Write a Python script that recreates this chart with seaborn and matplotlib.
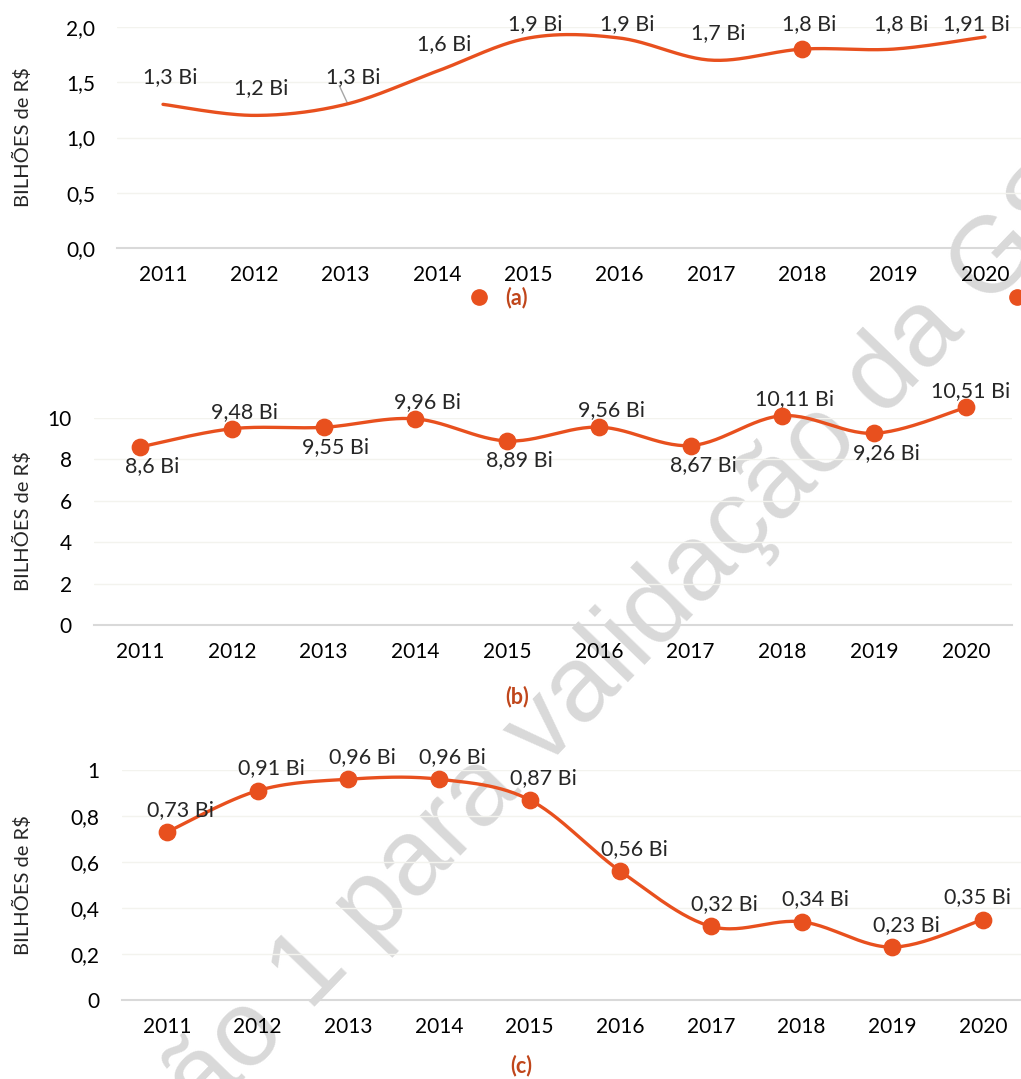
import numpy as np
import pandas as pd
import matplotlib
matplotlib.use("Agg")
import matplotlib.pyplot as plt
import seaborn as sns
from matplotlib.lines import Line2D

anos = ["2011", "2012", "2013", "2014", "2015", "2016", "2017", "2018", "2019", "2020"]
valores_a = [1.3, 1.2, 1.3, 1.6, 1.9, 1.9, 1.7, 1.8, 1.8, 1.91]
valores_b = [8.6, 9.48, 9.55, 9.96, 8.89, 9.56, 8.67, 10.11, 9.26, 10.51]
valores_c = [0.73, 0.91, 0.96, 0.96, 0.87, 0.56, 0.32, 0.34, 0.23, 0.35]
posicao_b = ["below", "above", "below", "above", "below", "above", "below", "above", "below", "above"]

COR = "#E8501E"
COR_LETRA = "#C0461B"
W, H = 1021, 1079

sns.set_theme(style="white")
plt.rcParams["font.family"] = ["Lato", "DejaVu Sans"]


def rotulo(v):
    return str(v).replace(".", ",") + " Bi"


def suavizar(y, n=30):
    # curva suavizada tipo Excel (Bezier / Catmull-Rom)
    p = np.column_stack([np.arange(len(y), dtype=float), np.asarray(y, float)])
    partes = []
    t = np.linspace(0, 1, n)[:, None]
    for i in range(len(p) - 1):
        p0 = p[i - 1] if i > 0 else p[i]
        p1, p2 = p[i], p[i + 1]
        p3 = p[i + 2] if i + 2 < len(p) else p[i + 1]
        c1 = p1 + (p2 - p0) / 6
        c2 = p2 - (p3 - p1) / 6
        seg = (1 - t) ** 3 * p1 + 3 * (1 - t) ** 2 * t * c1 + 3 * (1 - t) * t ** 2 * c2 + t ** 3 * p2
        partes.append(seg if i == 0 else seg[1:])
    return pd.DataFrame(np.vstack(partes), columns=["x", "y"])


def eixo(fig, x0, x9, y0px, ytop_px, ymax):
    # x0/x9: pixel do 1o e ultimo ano; y0px: pixel do zero; ytop_px: pixel de ymax
    passo = (x9 - x0) / 9
    left = x0 - passo / 2
    ax = fig.add_axes([left / W, 1 - y0px / H, 10 * passo / W, (y0px - ytop_px) / H])
    ax.set_xlim(-0.5, 9.5)
    ax.set_ylim(0, ymax)
    ax.set_facecolor("none")
    for s in ["top", "right", "left"]:
        ax.spines[s].set_visible(False)
    ax.spines["bottom"].set_color("#D9D9D9")
    ax.spines["bottom"].set_linewidth(1.5)
    ax.grid(axis="y", color="#F3F3EE", lw=1)
    ax.grid(axis="x", visible=False)
    ax.set_xticks(range(10))
    ax.set_xticklabels(anos)
    ax.tick_params(axis="both", length=0, labelsize=15, colors="black")
    ax.tick_params(axis="x", pad=12)
    ax.tick_params(axis="y", pad=16)
    ax.xlim_px = (left, 10 * passo)
    return ax


def desenhar(ax, valores, marcadores):
    curva = suavizar(valores)
    sns.lineplot(data=curva, x="x", y="y", ax=ax, color=COR, lw=2.4, sort=False,
                 estimator=None, clip_on=False, zorder=3)
    df = pd.DataFrame({"x": range(len(valores)), "y": valores})
    df = df.iloc[marcadores]
    sns.scatterplot(data=df, x="x", y="y", ax=ax, color=COR, edgecolor=COR, s=140,
                    zorder=4, clip_on=False, legend=False)
    ax.set_xlabel("")
    ax.set_ylabel("BILHÕES de R$", fontsize=14.5)
    left, largura = ax.xlim_px
    ax.yaxis.set_label_coords((32 - left) / largura, 0.5)


fig = plt.figure(figsize=(W / 100, H / 100), dpi=100)

# marca d'agua
fig.text(555 / W, 1 - 718 / H, "Versão 1 para validação da GS", fontsize=78, color="#D9D9D9",
         family=["Liberation Sans Narrow", "Liberation Sans"], rotation=46,
         ha="center", va="center", rotation_mode="anchor", zorder=-1)

# (a)
ax_a = eixo(fig, 163, 985, 248, 27, 2.0)
desenhar(ax_a, valores_a, [7])
ax_a.set_yticks(np.arange(0, 2.01, 0.5))
ax_a.set_yticklabels([f"{v:.1f}".replace(".", ",") for v in np.arange(0, 2.01, 0.5)])
for i, v in enumerate(valores_a):
    ly = min(v + 0.245, 2.03)
    dx = 0.08 if i < 9 else -0.09
    ax_a.text(i + dx, ly, rotulo(v), ha="center", va="center", fontsize=15.5, clip_on=False)
ax_a.plot([1.93, 2.02], [1.47, 1.31], color="#A6A6A6", lw=1)
leg_h = [Line2D([], [], marker="o", ls="none", color=COR, markersize=11) for _ in range(2)]
fig.legend(handles=leg_h, labels=["", ""], ncol=2, loc="center", frameon=False,
           bbox_to_anchor=(748 / W, 1 - 298 / H), fontsize=15, handlelength=1,
           handletextpad=0, columnspacing=24.8)

# (b)
ax_b = eixo(fig, 140, 966, 625, 418, 10)
desenhar(ax_b, valores_b, list(range(10)))
ax_b.set_yticks(range(0, 11, 2))
ax_b.set_yticklabels([str(v) for v in range(0, 11, 2)])
for i, (v, pos) in enumerate(zip(valores_b, posicao_b)):
    dy = 12 if pos == "above" else -14
    ax_b.annotate(rotulo(v), (i, v), xytext=(9 if i < 9 else 3, dy), textcoords="offset points",
                  ha="center", va="center", fontsize=15.5, annotation_clip=False)

# (c)
ax_c = eixo(fig, 167, 983, 1000, 770, 1.0)
desenhar(ax_c, valores_c, list(range(10)))
ax_c.set_yticks(np.arange(0, 1.01, 0.2))
ax_c.set_yticklabels(["0", "0,2", "0,4", "0,6", "0,8", "1"])
for i, v in enumerate(valores_c):
    ax_c.annotate(rotulo(v), (i, v), xytext=(10 if i < 9 else -4, 16), textcoords="offset points",
                  ha="center", va="center", fontsize=15.5, annotation_clip=False)

for txt, x, y in [("(a)", 517, 298), ("(b)", 517, 697), ("(c)", 521, 1066)]:
    fig.text(x / W, 1 - y / H, txt, ha="center", va="center", fontsize=15.5,
             fontweight="bold", color=COR_LETRA)

fig.savefig("out.png", dpi=100)
